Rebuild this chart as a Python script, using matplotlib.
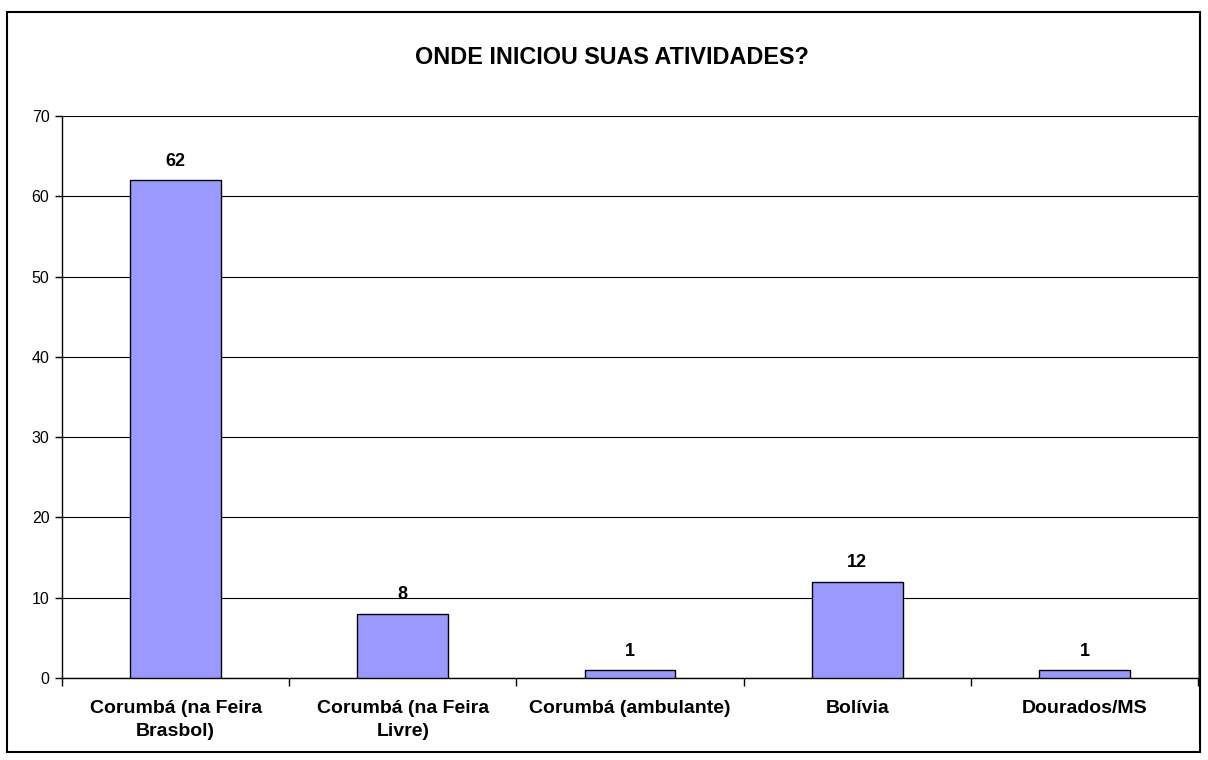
import matplotlib
matplotlib.use("Agg")
import matplotlib.pyplot as plt
from matplotlib.patches import Rectangle

plt.rcParams['font.family'] = ['Liberation Sans', 'DejaVu Sans']

categories = ["Corumbá (na Feira\nBrasbol)", "Corumbá (na Feira\nLivre)",
              "Corumbá (ambulante)", "Bolívia", "Dourados/MS"]
values = [62, 8, 1, 12, 1]
yticks = [0, 10, 20, 30, 40, 50, 60, 70]

W, H = 1208, 760
fig = plt.figure(figsize=(W / 100, H / 100), dpi=100)
ax = fig.add_axes([62 / W, 1 - 678 / H, (1198 - 62) / W, (678 - 116) / H])

x = range(len(values))
bars = ax.bar(x, values, width=0.4, color='#9999ff', edgecolor='black', linewidth=1, zorder=3)
for b, v in zip(bars, values):
    ax.text(b.get_x() + b.get_width() / 2, v + 1.3, str(v), ha='center', va='bottom',
            fontsize=13, fontweight='bold')

ax.set_xlim(-0.5, len(values) - 0.5)
ax.set_ylim(0, 70)
ax.set_yticks(yticks)
ax.tick_params(axis='y', labelsize=11.5, length=5, direction='out', width=1, pad=4)
ax.yaxis.grid(True, color='black', linewidth=0.8, zorder=0)

# category ticks at boundaries, labels centered
ax.set_xticks([i - 0.5 for i in range(len(values) + 1)])
ax.set_xticklabels([])
ax.tick_params(axis='x', length=6, direction='out', width=1)
for i, c in enumerate(categories):
    ax.text(i, -2.8, c, ha='center', va='top', fontsize=14, fontweight='bold',
            linespacing=1.4)

ax.spines['top'].set_visible(False)
ax.spines['right'].set_color('#808080')
ax.spines['left'].set_linewidth(1)
ax.spines['bottom'].set_linewidth(1)

fig.text(612 / W, 1 - 57 / H, "ONDE INICIOU SUAS ATIVIDADES?", ha='center', va='center',
         fontsize=16.8, fontweight='bold')

fig.patches.append(Rectangle((7 / W, 1 - 752 / H), (1200 - 7) / W, (752 - 12) / H,
                             transform=fig.transFigure, fill=False, edgecolor='black',
                             linewidth=1.5))

fig.savefig("out.png", dpi=100)
